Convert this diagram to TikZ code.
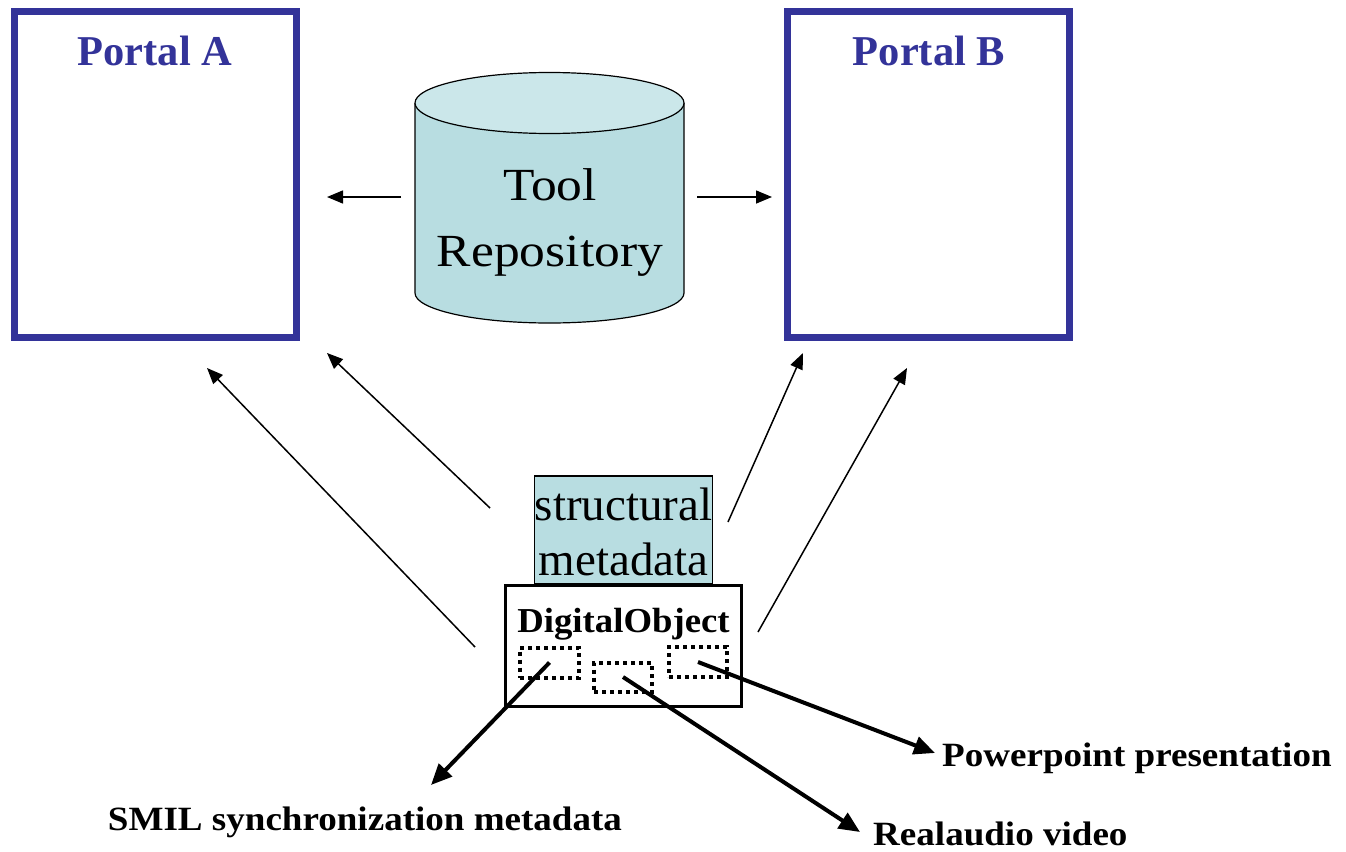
\documentclass[tikz,border=0pt]{standalone}
\usepackage{fontspec}
\setmainfont{Liberation Serif}
\usetikzlibrary{arrows.meta}

\definecolor{portalblue}{RGB}{51,51,153}
\definecolor{repofill}{RGB}{184,221,225}
\definecolor{repotop}{RGB}{203,231,234}

\tikzset{
  portal/.style={draw=portalblue, line width=7pt, minimum width=282pt,
    minimum height=325pt, inner sep=0pt, outer sep=0pt},
  portaltitle/.style={anchor=base, inner sep=0pt, text=portalblue,
    font=\fontsize{42.5}{50}\selectfont\bfseries},
  repotext/.style={anchor=base, inner sep=0pt,
    font=\fontsize{46}{52}\selectfont},
  metabox/.style={draw=black, line width=1.5pt, fill=repofill,
    minimum width=178pt, minimum height=108pt, inner sep=0pt},
  metatext/.style={anchor=base, inner sep=0pt,
    font=\fontsize{47}{55}\selectfont},
  objbox/.style={draw=black, line width=3pt, fill=white,
    minimum width=236pt, minimum height=121pt, inner sep=0pt},
  objtext/.style={anchor=base, inner sep=0pt,
    font=\fontsize{35}{40}\selectfont\bfseries},
  part/.style={draw=black, line width=4pt, dash pattern=on 4pt off 4pt,
    inner sep=0pt},
  itemtext/.style={inner sep=0pt, font=\fontsize{34}{38}\selectfont\bfseries},
  thinarrow/.style={draw=black, line width=1.5pt,
    -{Triangle[length=16pt,width=13pt]}},
  thickarrow/.style={draw=black, line width=4pt,
    -{Triangle[length=21pt,width=18pt]}}
}

\begin{document}
\begin{tikzpicture}[x=1pt, y=-1pt]
  \useasboundingbox (0,0) rectangle (1346,851);

  % the two portals
  \node[portal] (pa) at (155,174.5) {};
  \node[portal] (pb) at (928.5,174.5) {};
  \node[portaltitle] (patitle) at (155,66) {Portal A};
  \node[portaltitle] (pbtitle) at (929,66) {Portal B};

  % tool repository drum
  \path[fill=repofill] (415,103) -- (415,293)
    arc[start angle=180, end angle=0, x radius=134.5, y radius=30]
    -- (684,103) -- cycle;
  \draw[line width=1.2pt] (415,103) -- (415,293)
    arc[start angle=180, end angle=0, x radius=134.5, y radius=30]
    -- (684,103);
  \filldraw[fill=repotop, line width=1.2pt] (549.5,103)
    ellipse[x radius=134.5, y radius=30.5];
  \node[repotext] (tool) at (550,200) {\scalebox{1.12}[1]{Tool}};
  \node[repotext] (repo) at (550,266) {\scalebox{1.12}[1]{Repository}};

  % repository feeds both portals
  \coordinate (repoL) at (401,197);
  \coordinate (repoR) at (697,197);
  \coordinate (paR) at (327,197);
  \coordinate (pbL) at (772,197);
  \draw[thinarrow] (repoL) -- (paR);
  \draw[thinarrow] (repoR) -- (pbL);

  % digital object with its structural metadata
  \node[metabox] (meta) at (623.5,530) {};
  \node[metatext] (meta1) at (623.5,520) {structural};
  \node[metatext] (meta2) at (623.5,575) {metadata};
  \node[objbox] (dobj) at (623.5,646) {};
  \node[objtext] (dobjlabel) at (623.5,632) {\scalebox{1.05}[1]{DigitalObject}};

  % component slots inside the object
  \node[part, minimum width=59pt, minimum height=30pt] (slot1) at (549.5,662.5) {};
  \node[part, minimum width=58pt, minimum height=29pt] (slot2) at (623,677) {};
  \node[part, minimum width=58pt, minimum height=30pt] (slot3) at (698,662) {};

  % content labels
  \node[itemtext, anchor=base] (smil) at (365,830)
    {\scalebox{1.09}[1]{SMIL synchronization metadata}};
  \node[itemtext, anchor=base west] (real) at (873,845)
    {\scalebox{1.09}[1]{Realaudio video}};
  \node[itemtext, anchor=base west] (ppt) at (942,766)
    {\scalebox{1.09}[1]{Powerpoint presentation}};

  \coordinate (smilTip) at (431,785);
  \coordinate (realTip) at (860,832);
  \coordinate (pptTip) at (935,753);
  \draw[thickarrow] (slot1.center) -- (smilTip);
  \draw[thickarrow] (slot2.center) -- (realTip);
  \draw[thickarrow] (slot3.center) -- (pptTip);

  % publication of the object into the portals
  \coordinate (objL) at (475,647);
  \coordinate (metaL) at (490,508);
  \coordinate (metaR) at (728,522);
  \coordinate (objR) at (758,632);
  \coordinate (paB1) at (207,368);
  \coordinate (paB2) at (327,353);
  \coordinate (pbB1) at (803,353);
  \coordinate (pbB2) at (907,368);
  \draw[thinarrow] (objL) -- (paB1);
  \draw[thinarrow] (metaL) -- (paB2);
  \draw[thinarrow] (metaR) -- (pbB1);
  \draw[thinarrow] (objR) -- (pbB2);
\end{tikzpicture}
\end{document}
